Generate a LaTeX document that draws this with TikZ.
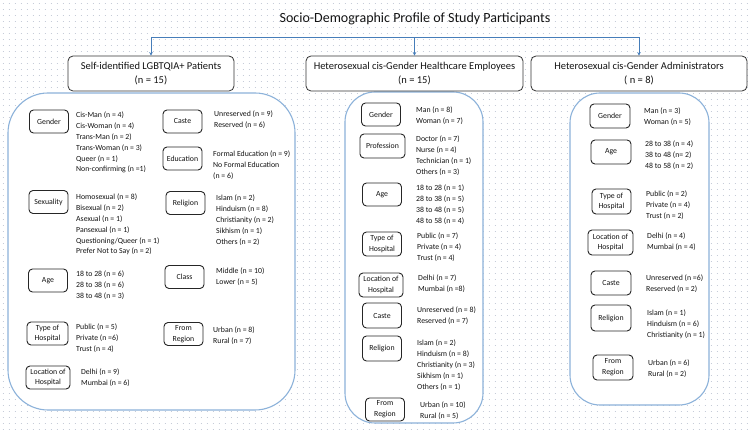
\documentclass[tikz,border=0pt]{standalone}
\usepackage{fontspec}
\setmainfont{Carlito}
\usetikzlibrary{arrows.meta}
\definecolor{dotc}{RGB}{198,204,216}
\definecolor{contc}{RGB}{140,178,218}
\definecolor{connc}{RGB}{70,125,185}
\definecolor{txt}{RGB}{20,20,20}
\begin{document}
\begin{tikzpicture}[x=1pt,y=-1pt,
  every node/.style={text=txt},
  cont/.style={draw=contc, line width=1.1pt, fill=white, inner sep=0},
  head/.style={draw=black!80, line width=0.8pt, fill=white, rounded corners=5pt, align=center, font=\fontsize{10.5}{14}\selectfont, inner sep=0, minimum height=35pt},
  lab/.style={draw=black!85, line width=0.9pt, fill=white, rounded corners=4pt, align=center, font=\fontsize{7.8}{10.8}\selectfont, inner sep=0, minimum width=39pt, minimum height=23pt},
  items/.style={anchor=north west, align=left, inner sep=0, font=\fontsize{7.8}{10.9}\selectfont},
  conn/.style={draw=connc, line width=0.7pt, -{Stealth[length=3.5pt,width=3.5pt]}},
  dotrow/.style={draw=dotc, line width=0.9pt, dash pattern=on 0.9pt off 5.1pt}]
\useasboundingbox (0,0) rectangle (750,435);
\fill[white] (0,0) rectangle (750,435);
\foreach \r in {0,...,72} {
  \draw[dotrow] (2.5,{3+6*\r}) -- (750,{3+6*\r});
}

% title
\node[font=\fontsize{14}{17}\selectfont] (title) at (415,19) {Socio-Demographic Profile of Study Participants};

% containers
\node[cont, rounded corners=40pt, minimum width=287pt, minimum height=317pt] (c1) at (151.5,251.5) {};
\node[cont, rounded corners=30pt, minimum width=138pt, minimum height=331pt] (c2) at (414,257.5) {};
\node[cont, rounded corners=30pt, minimum width=139pt, minimum height=312pt] (c3) at (639.5,249) {};

% headers
\node[head, minimum width=166pt] (h1) at (151,73.5) {Self-identified LGBTQIA+ Patients\\(n = 15)};
\node[head, minimum width=217pt] (h2) at (414.5,73.5) {Heterosexual cis-Gender Healthcare Employees\\(n = 15)};
\node[head, minimum width=216pt] (h3) at (639,73.5) {Heterosexual cis-Gender Administrators\\( n = 8)};

% connectors
\path (h2.north) ++(0,-18) coordinate (hub);
\draw[conn] (hub) -| (h1.north);
\draw[conn] (hub) -| (h3.north);
\draw[conn] (hub) -- (h2.north);

% left group
\node[lab] (lg) at (49,121.5) {Gender};
\node[items] (lgi) at (76,111.5) {Cis-Man (n = 4)\\Cis-Woman (n = 4)\\Trans-Man (n = 2)\\Trans-Woman (n = 3)\\Queer (n = 1)\\Non-confirming (n =1)};
\node[lab] (lc) at (182.5,121.5) {Caste};
\node[items] (lci) at (214,110.5) {Unreserved (n = 9)\\Reserved (n = 6)};
\node[lab] (le) at (182.5,158.5) {Education};
\node[items] (lei) at (213,150.5) {Formal Education (n = 9)\\No Formal Education\\(n = 6)};
\node[lab] (ls) at (48.5,202) {Sexuality};
\node[items] (lsi) at (76,193.5) {Homosexual (n = 8)\\Bisexual (n = 2)\\Asexual (n = 1)\\Pansexual (n = 1)\\Questioning/Queer (n = 1)\\Prefer Not to Say (n = 2)};
\node[lab] (lr) at (185.5,203) {Religion};
\node[items] (lri) at (216,194.5) {Islam (n = 2)\\Hinduism (n = 8)\\Christianity (n = 2)\\Sikhism (n = 1)\\Others (n = 2)};
\node[lab] (la) at (48,280.5) {Age};
\node[items] (lai) at (76,270.5) {18 to 28 (n = 6)\\28 to 38 (n = 6)\\38 to 48 (n = 3)};
\node[lab] (lcl) at (184.5,277) {Class};
\node[items] (lcli) at (216,267.5) {Middle (n = 10)\\Lower (n = 5)};
\node[lab, minimum width=41pt] (lt) at (47.5,333.5) {Type of\\Hospital};
\node[items] (lti) at (76,323.5) {Public (n = 5)\\Private (n =6)\\Trust (n = 4)};
\node[lab] (lf) at (183.5,334) {From\\Region};
\node[items] (lfi) at (213,326.5) {Urban (n = 8)\\Rural (n = 7)};
\node[lab, minimum width=44pt] (ll) at (48,377.5) {Location of\\Hospital};
\node[items] (lli) at (81,368.5) {Delhi (n = 9)\\Mumbai (n = 6)};

% middle group
\node[lab] (mg) at (381,114.5) {Gender};
\node[items] (mgi) at (416,106.5) {Man (n = 8)\\Woman (n = 7)};
\node[lab, minimum width=45pt, minimum height=24pt] (mp) at (382.5,146) {Profession};
\node[items] (mpi) at (416,135.5) {Doctor (n = 7)\\Nurse (n = 4)\\Technician (n = 1)\\Others (n = 3)};
\node[lab] (ma) at (382,194.5) {Age};
\node[items] (mai) at (416,184.5) {18 to 28 (n = 1)\\28 to 38 (n = 5)\\38 to 48 (n = 5)\\48 to 58 (n = 4)};
\node[lab, minimum height=24pt] (mt) at (382,244) {Type of\\Hospital};
\node[items] (mti) at (417,232.5) {Public (n = 7)\\Private (n = 4)\\Trust (n = 4)};
\node[lab, minimum width=44pt, minimum height=24pt] (ml) at (381,285) {Location of\\Hospital};
\node[items] (mli) at (418,274.5) {Delhi (n = 7)\\Mumbai (n =8)};
\node[lab, minimum height=25pt] (mc) at (382,315.5) {Caste};
\node[items] (mci) at (417,306.5) {Unreserved (n = 8)\\Reserved (n = 7)};
\node[lab, minimum height=25pt] (mr) at (382,348.5) {Religion};
\node[items] (mri) at (417,339.5) {Islam (n = 2)\\Hinduism (n = 8)\\Christianity (n = 3)\\Sikhism (n = 1)\\Others (n = 1)};
\node[lab] (mf) at (385,409.5) {From\\Region};
\node[items] (mfi) at (420,401.5) {Urban (n = 10)\\Rural (n = 5)};

% right group
\node[lab, minimum width=40pt, minimum height=24pt] (rg) at (610,116) {Gender};
\node[items] (rgi) at (644,107.5) {Man (n = 3)\\Woman (n = 5)};
\node[lab, minimum width=40pt, minimum height=24pt] (ra) at (611,152) {Age};
\node[items] (rai) at (645,140.5) {28 to 38 (n = 4)\\38 to 48 (n= 2)\\48 to 58 (n = 2)};
\node[lab, minimum height=25pt] (rt) at (611.5,201.5) {Type of\\Hospital};
\node[items] (rti) at (646,190.5) {Public (n = 2)\\Private (n = 4)\\Trust (n = 2)};
\node[lab, minimum width=45pt, minimum height=25pt] (rl) at (610.5,242.5) {Location of\\Hospital};
\node[items] (rli) at (647,232.5) {Delhi (n = 4)\\Mumbai (n = 4)};
\node[lab, minimum width=40pt, minimum height=24pt] (rc) at (611,283) {Caste};
\node[items] (rci) at (646,274.5) {Unreserved (n =6)\\Reserved (n = 2)};
\node[lab, minimum width=40pt, minimum height=26pt] (rr) at (611,318) {Religion};
\node[items] (rri) at (647,309.5) {Islam (n = 1)\\Hinduism (n = 6)\\Christianity (n = 1)};
\node[lab, minimum width=40pt, minimum height=25pt] (rf) at (613,367.5) {From\\Region};
\node[items] (rfi) at (648,359.5) {Urban (n = 6)\\Rural (n = 2)};
\end{tikzpicture}
\end{document}
